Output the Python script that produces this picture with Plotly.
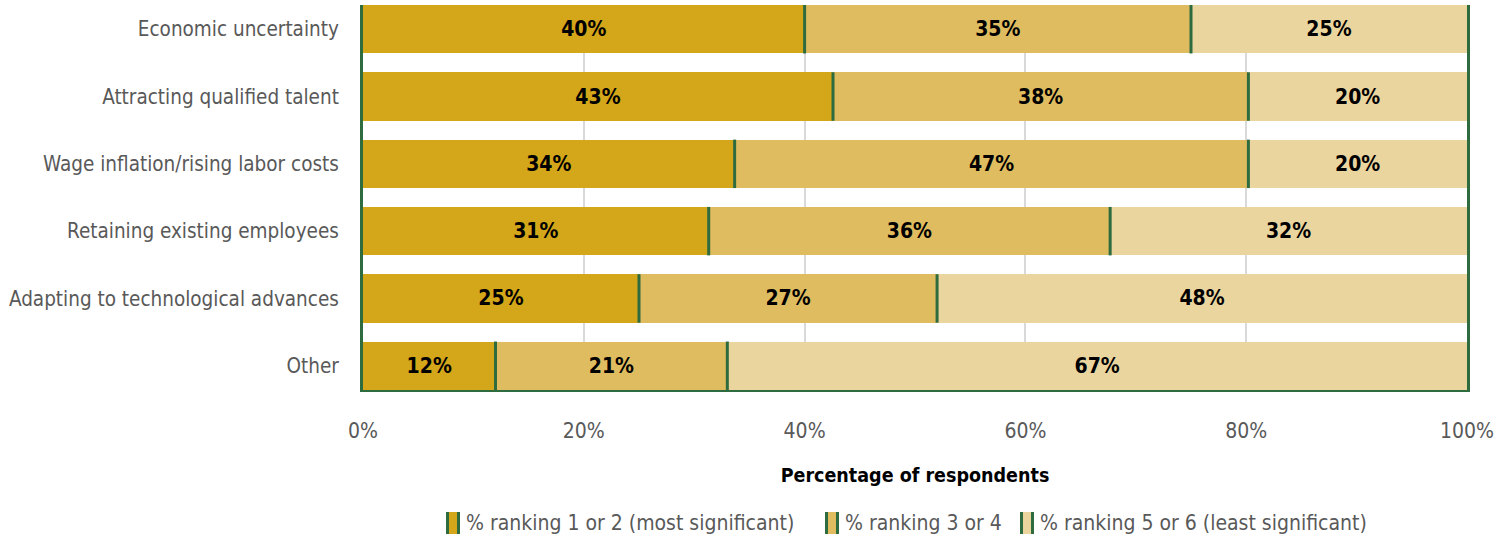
import plotly.graph_objects as go

categories = [
    "Economic uncertainty",
    "Attracting qualified talent",
    "Wage inflation/rising labor costs",
    "Retaining existing employees",
    "Adapting to technological advances",
    "Other",
]
series_names = [
    "% ranking 1 or 2 (most significant)",
    "% ranking 3 or 4",
    "% ranking 5 or 6 (least significant)",
]
rank_1_2 = [40, 43, 34, 31, 25, 12]
rank_3_4 = [35, 38, 47, 36, 27, 21]
rank_5_6 = [25, 20, 20, 32, 48, 67]
x_ticks = [0, 20, 40, 60, 80, 100]
x_tick_labels = ["0%", "20%", "40%", "60%", "80%", "100%"]

colors = ["#D4A619", "#DFBC5F", "#EBD59F"]
GREEN = "#2E6B3E"
GRAY = "#595959"
FONT = "Liberation Sans Narrow, DejaVu Sans Condensed, Roboto Condensed, Arial Narrow, sans-serif"
BAR_W = 0.72
FS = 21

W, H = 1512, 540
ML, MR, MT, MB = 363, 45, 5, 150
PW, PH = W - ML - MR, H - MT - MB

ypos = list(range(len(categories)))
series = [rank_1_2, rank_3_4, rank_5_6]

fig = go.Figure()
for name, vals, col in zip(series_names, series, colors):
    fig.add_trace(go.Bar(
        y=ypos, x=vals, name=name, orientation="h", width=BAR_W,
        marker=dict(color=col, line=dict(width=0)),
        text=vals, texttemplate="<b>%{text}%</b>", textposition="inside",
        insidetextanchor="middle", constraintext="none",
        textfont=dict(family=FONT, size=FS, color="black"),
        showlegend=False, hoverinfo="skip",
    ))

# segment boundary lines (right edge of each segment), normalised like barnorm
lx, ly = [], []
for i in range(len(categories)):
    tot = sum(s[i] for s in series)
    cum = 0
    for s in series[:-1]:
        cum += s[i]
        xv = cum / tot * 100
        lx += [xv, xv, None]
        ly += [ypos[i] - BAR_W / 2, ypos[i] + BAR_W / 2, None]
fig.add_trace(go.Scatter(x=lx, y=ly, mode="lines", line=dict(color=GREEN, width=3),
                         showlegend=False, hoverinfo="skip"))

# custom legend
def px2x(px):
    return (px - ML) / PW

def py2y(py):
    return (MT + PH - py) / PH

legend_items = [(446, 464), (825, 843), (1020, 1038)]
shapes = []
annotations = []
sw_w, sw_h, leg_cy = 14, 22, 523
for (sx, tx), name, col in zip(legend_items, series_names, colors):
    shapes.append(dict(type="rect", xref="paper", yref="paper",
                       x0=px2x(sx), x1=px2x(sx + sw_w),
                       y0=py2y(leg_cy + sw_h / 2), y1=py2y(leg_cy - sw_h / 2),
                       fillcolor=col, line=dict(width=0)))
    for ex in (sx + 1.5, sx + sw_w - 1.5):
        shapes.append(dict(type="line", xref="paper", yref="paper",
                           x0=px2x(ex), x1=px2x(ex),
                           y0=py2y(leg_cy + sw_h / 2), y1=py2y(leg_cy - sw_h / 2),
                           line=dict(color=GREEN, width=3)))
    annotations.append(dict(xref="paper", yref="paper", x=px2x(tx), y=py2y(leg_cy),
                            xanchor="left", yanchor="middle", showarrow=False,
                            text=name, font=dict(family=FONT, size=FS, color=GRAY)))

fig.update_layout(
    barmode="stack", barnorm="percent",
    width=W, height=H,
    margin=dict(l=ML, r=MR, t=MT, b=MB, autoexpand=False),
    paper_bgcolor="white", plot_bgcolor="white",
    font=dict(family=FONT, size=FS, color=GRAY),
    shapes=shapes, annotations=annotations,
    xaxis=dict(range=[0, 100], tickvals=x_ticks, ticktext=x_tick_labels,
               showgrid=True, gridcolor="#D9D9D9", gridwidth=2,
               showline=True, linecolor=GREEN, linewidth=2,
               zeroline=False, ticks="", ticklabelstandoff=21, automargin=False,
               tickfont=dict(family=FONT, size=FS, color=GRAY),
               title=dict(text="<b>Percentage of respondents</b>", standoff=26,
                          font=dict(family=FONT, size=19.5, color="black"))),
    yaxis=dict(range=[len(categories) - 1 + BAR_W / 2, -BAR_W / 2],
               tickvals=ypos, ticktext=categories,
               showgrid=False, zeroline=False, automargin=False,
               showline=True, mirror=True, linecolor=GREEN, linewidth=3,
               ticks="", ticklabelstandoff=17,
               tickfont=dict(family=FONT, size=20.5, color=GRAY)),
)

fig.write_html("out.html", config={"displayModeBar": False},
               post_script="document.body.style.margin='0';")
